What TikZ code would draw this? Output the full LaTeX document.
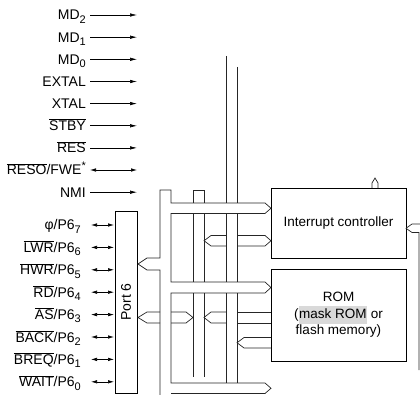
\documentclass[tikz,border=0pt]{standalone}
\usepackage{fontspec}
\setmainfont{Liberation Sans}
\usetikzlibrary{arrows.meta}
\definecolor{hl}{HTML}{D9D9D9}
\newcommand{\sbs}[1]{\raisebox{-0.45ex}{\fontsize{11}{11}\selectfont #1}}
\newcommand{\ovl}[1]{$\overline{\mbox{#1}}$}
\newcommand{\inrow}[4]{%
  \node[lbl] (#1) at (86,#2+5) {#3};
  \coordinate (#1s) at (90,#2);
  \coordinate (#1t) at (137,#2);
  \draw[#4] (#1s) -- (#1t);}
\newcommand{\portrow}[3]{%
  \node[lbl] (#1) at (81,#2+5) {#3};
  \coordinate (#1s) at (91,#2);
  \coordinate (#1t) at (114,#2);
  \draw[bsig] (#1s) -- (#1t);}
\begin{document}
\begin{tikzpicture}[x=1pt,y=-1pt,
  lbl/.style={anchor=base east, inner sep=0pt, font=\fontsize{14}{16}\selectfont},
  sig/.style={line width=0.6pt, -{Latex[length=7pt,width=3.5pt]}},
  bsig/.style={line width=0.6pt, {Latex[length=6pt,width=3.5pt]}-{Latex[length=6pt,width=3.5pt]}},
  bus/.style={line width=0.7pt, black!85},
  box/.style={draw, line width=0.8pt, inner sep=0pt}]
\useasboundingbox (0,0) rectangle (420,395);

\inrow{md2}{15}{MD\sbs{2}}{sig}
\inrow{md1}{37.2}{MD\sbs{1}}{sig}
\inrow{md0}{59.3}{MD\sbs{0}}{sig}
\inrow{extal}{81.5}{EXTAL}{sig}
\inrow{xtal}{103.6}{XTAL}{sig}
\inrow{stby}{125.8}{\ovl{STBY}}{sig}
\inrow{res}{147.9}{\ovl{RES}}{sig}
\inrow{reso}{170}{\ovl{RESO}/FWE\raisebox{0.7ex}{\fontsize{11}{11}\selectfont *}}{bsig}
\inrow{nmi}{192.2}{NMI}{sig}

\portrow{pa}{225}{φ/P6\sbs{7}}
\portrow{pb}{247.4}{\ovl{LWR}/P6\sbs{6}}
\portrow{pc}{269.8}{\ovl{HWR}/P6\sbs{5}}
\portrow{pd}{292.2}{\ovl{RD}/P6\sbs{4}}
\portrow{pe}{314.6}{\ovl{AS}/P6\sbs{3}}
\portrow{pf}{337}{\ovl{BACK}/P6\sbs{2}}
\portrow{pg}{359.4}{\ovl{BREQ}/P6\sbs{1}}
\portrow{ph}{381.8}{\ovl{WAIT}/P6\sbs{0}}

\node[box, rotate=90, minimum width=182, minimum height=22, font=\fontsize{14}{16}\selectfont] (port6) at (126,302) {Port 6};
\node[box, minimum width=135, minimum height=70, font=\fontsize{13.5}{16}\selectfont] (ic) at (338.5,223) {Interrupt controller};
\node[box, minimum width=135, minimum height=92, align=center, font=\fontsize{13.5}{16.5}\selectfont] (rom) at (338.5,315) {ROM\\({\fboxsep=0.6pt\colorbox{hl}{\strut mask ROM}} or\\flash memory)};

% bus A with port 6 branch and horizontal buses to the right
\draw[bus] (160,395) -- (160,270) -- (147,270) -- (138,264) -- (147,258) -- (160,258) -- (160,190) -- (171,190) -- (171,203)
  -- (265,203) -- (271,208.25) -- (265,213.5) -- (171,213.5) -- (171,282)
  -- (265,282) -- (271,287.5) -- (265,293) -- (171,293) -- (171,383)
  -- (265,383) -- (271,388.25) -- (265,393.5) -- (171,393.5);
% bus B
\draw[bus] (193,203) -- (193,190) -- (204,190) -- (204,203);
\draw[bus] (193,213.5) -- (193,282) (204,213.5) -- (204,282);
\draw[bus] (193,293) -- (193,377) (204,293) -- (204,377);
% bus C
\draw[bus] (226,56) -- (226,203) (237,67) -- (237,203);
\draw[bus] (226,213.5) -- (226,282) (237,213.5) -- (237,282);
\draw[bus] (226,293) -- (226,383) (237,293) -- (237,383);
% bus 2 (bus B <-> interrupt controller)
\draw[bus] (226,235.5) -- (211,235.5) -- (204,240.75) -- (211,246) -- (226,246);
\draw[bus] (237,235.5) -- (265,235.5) -- (271,240.75) -- (265,246) -- (237,246);
% bus 4
\draw[bus] (160,312) -- (147,312) -- (138,317.5) -- (147,323) -- (160,323);
\draw[bus] (171,312) -- (186,312) -- (193,317.5) -- (186,323) -- (171,323);
\draw[bus] (226,312) -- (211,312) -- (204,317.5) -- (211,323) -- (226,323);
\draw[bus] (237,312) -- (271,312) (237,323) -- (271,323);
% ROM -> bus C
\draw[bus] (271,337.5) -- (244,337.5) -- (237,342.75) -- (244,348) -- (271,348);
% interrupt controller right side
\draw[bus] (420,224) -- (412,224) -- (406,228.25) -- (412,232.5) -- (419,232.5) -- (419,370);
% interrupt controller top
\draw[bus] (372,188) -- (372,183) -- (375,178) -- (378,183) -- (378,188);
\end{tikzpicture}
\end{document}
